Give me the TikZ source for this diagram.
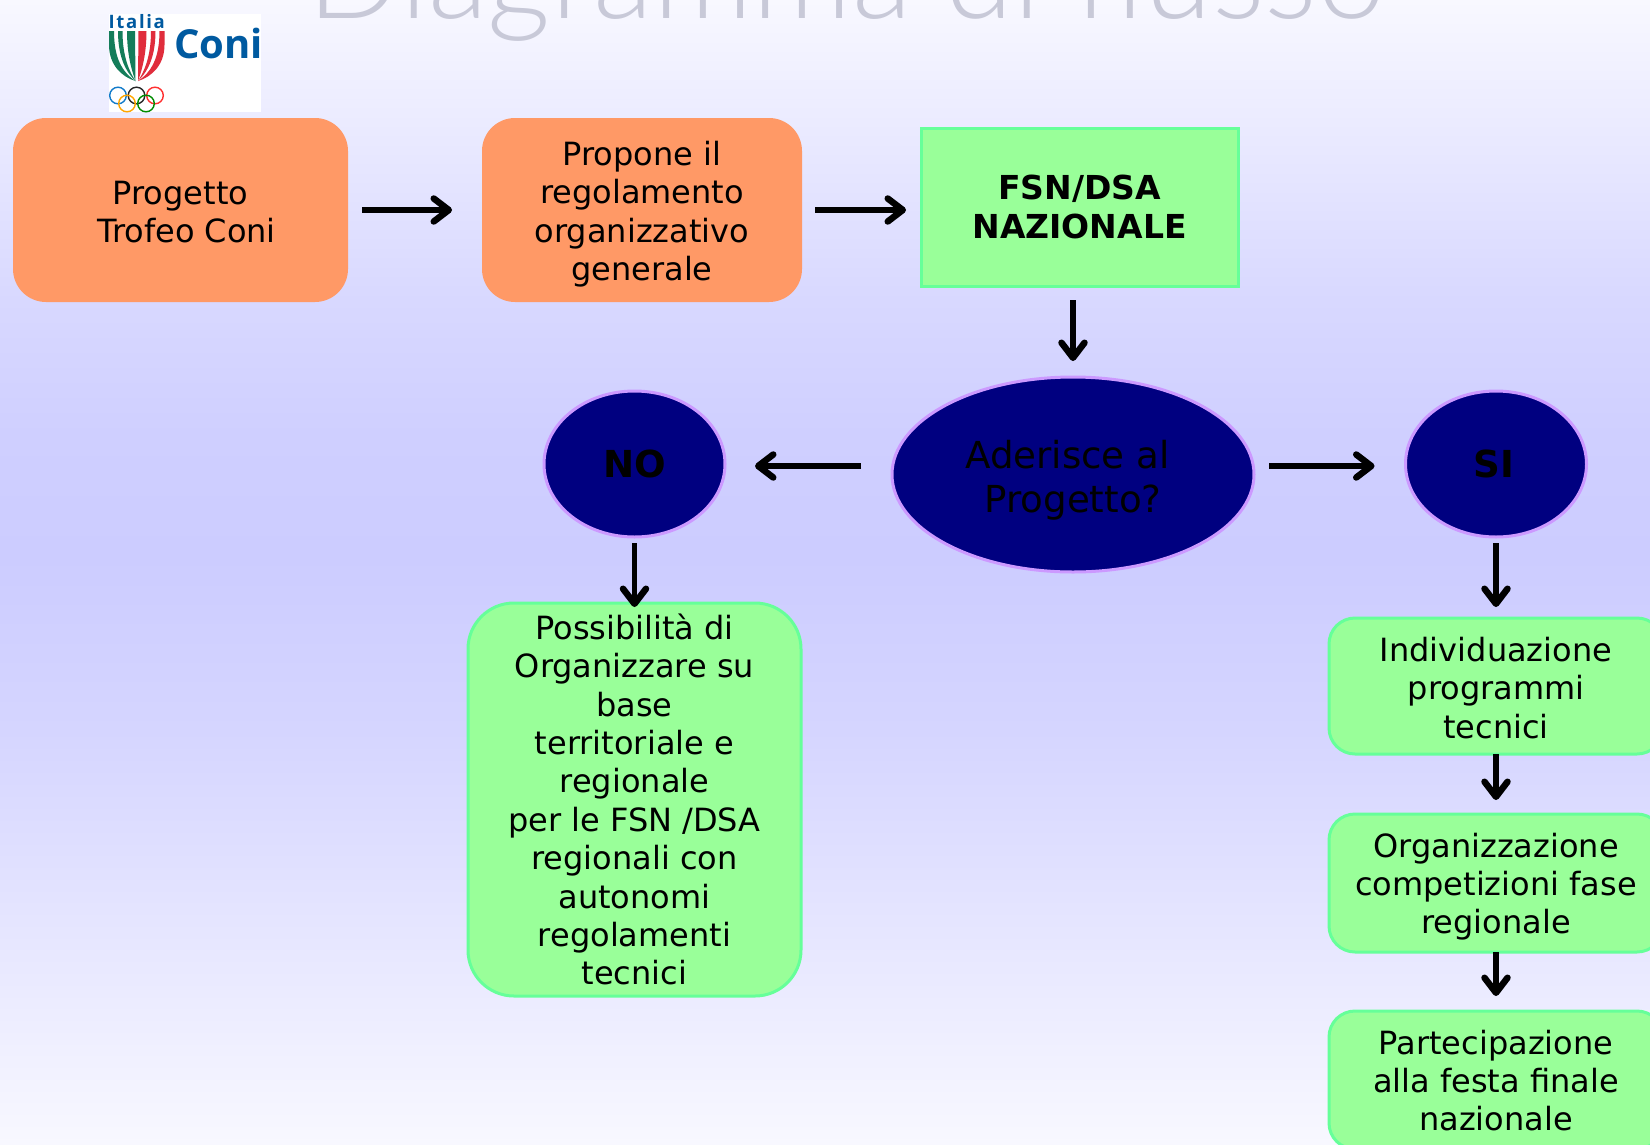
\documentclass[tikz,border=0pt]{standalone}
\usepackage{fontspec}
\setmainfont{DejaVu Sans}
\newfontfamily\titlefont{Lato Light}
\newfontfamily\logofont{Open Sans}
\usetikzlibrary{arrows.meta,shapes.geometric}
\definecolor{bga}{RGB}{248,248,255}
\definecolor{bgb}{RGB}{216,216,255}
\definecolor{bgc}{RGB}{207,207,255}
\definecolor{bgd}{RGB}{204,204,255}
\definecolor{bge}{RGB}{213,213,255}
\definecolor{bgf}{RGB}{222,222,255}
\definecolor{orangebox}{RGB}{255,153,102}
\definecolor{greenbox}{RGB}{153,255,153}
\definecolor{greenedge}{RGB}{102,255,153}
\definecolor{navyfill}{RGB}{0,0,128}
\definecolor{violetedge}{RGB}{204,153,255}
\definecolor{titlegrey}{RGB}{200,201,216}
\definecolor{logoblue}{RGB}{0,90,160}
\definecolor{logogreen}{RGB}{20,125,90}
\definecolor{logored}{RGB}{224,45,60}
\pgfdeclareverticalshading{slidebg}{100bp}{color(0bp)=(bga); color(25bp)=(bga); color(38.37bp)=(bgf); color(43.09bp)=(bge); color(50.7bp)=(bgd); color(55.99bp)=(bgc); color(61.89bp)=(bgb); color(75bp)=(bga); color(100bp)=(bga)}
\tikzset{
  txt/.style={font=\fontsize{32}{38.4}\selectfont,align=center,text=black,inner sep=0pt,outer sep=0pt},
  orangestep/.style={txt,fill=orangebox,rounded corners=33pt},
  greenstep/.style={txt,fill=greenbox,draw=greenedge,line width=3pt,rounded corners=26pt},
  bigstep/.style={greenstep,rounded corners=46pt},
  squarestep/.style={txt,fill=greenbox,draw=greenedge,line width=3pt},
  oval/.style={ellipse,txt,fill=navyfill,draw=violetedge,line width=3pt,font=\fontsize{37.2}{44}\selectfont},
  flow/.style={line width=5.5pt,-{Straight Barb[length=15pt,width=23pt,round,line width=6.5pt]}},
  ring/.style={line width=1.4pt}
}
\newcommand{\stripes}{%
  \fill (109,31) -- (109,45) .. controls (109,65) and (122,77) .. (135.5,81) .. controls (122,72) and (114,58) .. (114,31) -- cycle;
  \fill (118,31) -- (122.5,31) .. controls (122.5,52) and (127,68) .. (135.5,81) .. controls (124,70) and (118,54) .. (118,31) -- cycle;
  \fill (127,31) -- (135,31) -- (135.5,81) .. controls (130,66) and (127,50) .. (127,31) -- cycle;
}
\begin{document}
\begin{tikzpicture}[x=1pt,y=-1pt]
\useasboundingbox (0,0) rectangle (1650,1144);
\fill[shading=slidebg] (0,0) rectangle (1650,1144);

% title, cut by the top edge
\node[titlegrey,anchor=base,inner sep=0pt,font=\titlefont\fontsize{123.6}{126}\selectfont] (title) at (847,18) {Diagramma di flusso};

% logo
\fill[white] (109,14) rectangle (261,112);
\node[anchor=base west,inner sep=0pt,text=logoblue,font=\logofont\bfseries\fontsize{18.5}{20}\selectfont\addfontfeature{LetterSpace=9}] (logoa) at (108.5,28) {Italia};
\node[anchor=base west,inner sep=0pt,text=logoblue,font=\logofont\bfseries\fontsize{40}{40}\selectfont] (logob) at (174,58) {Coni};
\begin{scope}[logogreen]
  \stripes
\end{scope}
\begin{scope}[logored,shift={(273.5,0)},xscale=-1]
  \stripes
\end{scope}
\draw[ring,draw=cyan!60!blue] (118,95.5) circle (8.3);
\draw[ring,draw=black!85] (136.5,95.5) circle (8.3);
\draw[ring,draw=red!75!pink] (155,95.5) circle (8.3);
\draw[ring,draw=orange!70!yellow] (127,103.5) circle (8.3);
\draw[ring,draw=green!55!black] (146,103.5) circle (8.3);

% boxes
\node[orangestep,minimum width=335pt,minimum height=184pt] (b1) at (180.5,210) {\rule{0pt}{28pt}Progetto\\\hspace*{12pt}Trofeo Coni};
\node[orangestep,minimum width=320pt,minimum height=184pt] (b2) at (642,210) {\rule{0pt}{32.3pt}Propone il\\regolamento\\organizzativo\\generale};
\node[squarestep,minimum width=317pt,minimum height=158pt,font=\bfseries\fontsize{33}{38.4}\selectfont] (fsn) at (1079.5,207) {FSN/DSA\\NAZIONALE};
\node[oval,minimum width=362pt,minimum height=195pt] (ask) at (1073,474.5) {\rule{0pt}{39.3pt}Aderisce al\hspace*{11pt}\\Progetto?};
\node[oval,minimum width=181pt,minimum height=146pt,font=\bfseries\fontsize{37.2}{44}\selectfont] (no) at (634.5,464) {NO};
\node[oval,minimum width=181pt,minimum height=146pt,font=\bfseries\fontsize{37.2}{44}\selectfont] (si) at (1496,464) {SI\hspace*{4pt}};
\node[bigstep,minimum width=333pt,minimum height=393pt] (nobox) at (634.5,799.5) {Possibilità di\\Organizzare su\\base\\territoriale e\\regionale\\per le FSN /DSA\\regionali con\\autonomi\\regolamenti\\tecnici};
\node[greenstep,minimum width=334pt,minimum height=136pt] (ind) at (1496,686) {\rule{0pt}{28.3pt}Individuazione\\programmi\\tecnici};
\node[greenstep,minimum width=334pt,minimum height=138pt] (org) at (1496,883) {\rule{0pt}{31.7pt}Organizzazione\\competizioni fase\\regionale};
\node[greenstep,minimum width=334pt,minimum height=138pt] (part) at (1496,1080) {\rule{0pt}{25.6pt}Partecipazione\\alla festa finale\\nazionale};

% connectors
\draw[flow] ([xshift=14pt]b1.east) -- ([xshift=-30pt]b2.west);
\draw[flow] ([xshift=13pt]b2.east) -- ([xshift=-15pt,yshift=-3pt]fsn.west);
\draw[flow] ([xshift=-6.5pt,yshift=-14pt]fsn.south) -- ([yshift=16pt]ask.north);
\draw[flow] ([xshift=-31pt,yshift=8.5pt]ask.west) -- ([xshift=30pt,yshift=-2pt]no.east);
\draw[flow] ([xshift=15pt,yshift=8.5pt]ask.east) -- ([xshift=-31pt,yshift=-2pt]si.west);
\draw[flow] ([yshift=-6pt]no.south) -- ([yshift=-4pt]nobox.north);
\draw[flow] ([yshift=-6pt]si.south) -- ([yshift=11pt]ind.north);
\draw[flow] (ind.south) -- ([yshift=14pt]org.north);
\draw[flow] (org.south) -- ([yshift=15pt]part.north);
\end{tikzpicture}
\end{document}
